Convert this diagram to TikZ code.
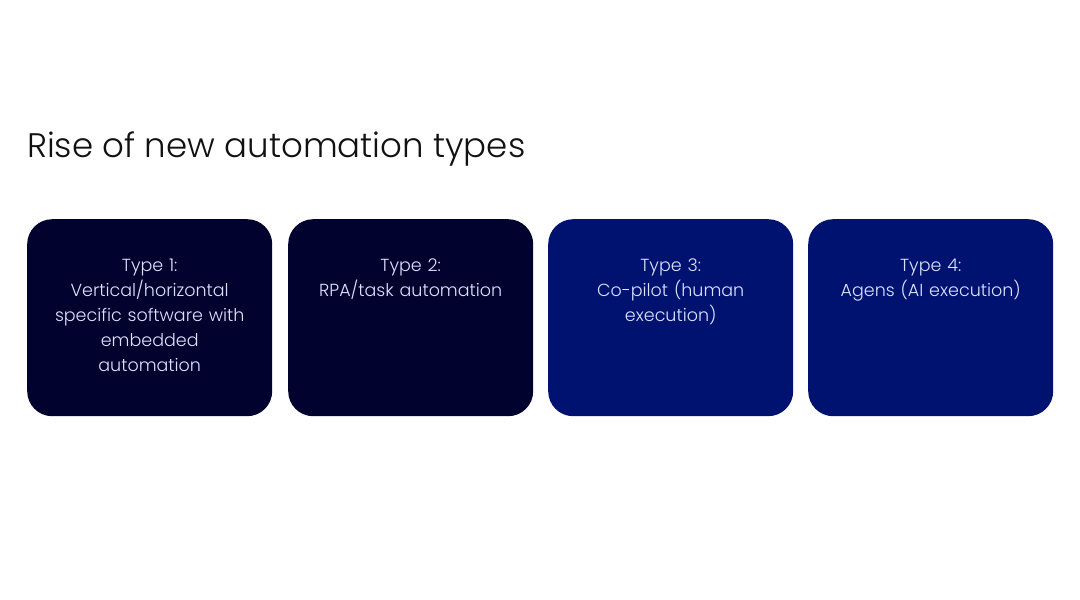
\documentclass[tikz,border=0pt]{standalone}
\usepackage{fontspec}
\setmainfont{Poppins}[UprightFont=* Light]
\definecolor{navydark}{HTML}{02022F}
\definecolor{navyblue}{HTML}{001270}
\definecolor{boxtext}{HTML}{DDE2FF}
\definecolor{titletext}{HTML}{111111}
\begin{document}
\begin{tikzpicture}[x=1pt,y=-1pt,
  card/.style={rectangle,rounded corners=25pt,minimum width=245pt,minimum height=197pt,inner sep=0pt,anchor=north west},
  cardtext/.style={anchor=north,text=boxtext,font=\fontsize{17.5}{25}\selectfont,align=center,text width=205pt,inner sep=0pt}]
\useasboundingbox[fill=white] (0,0) rectangle (1080,600);
\node[anchor=base west,inner sep=0pt,text=titletext,font=\fontsize{34}{40}\selectfont] (title) at (27,157) {Rise of new automation types};
\node[card,fill=navydark] (b1) at (27,219) {};
\node[card,fill=navydark] (b2) at (288,219) {};
\node[card,fill=navyblue] (b3) at (548,219) {};
\node[card,fill=navyblue] (b4) at (808,219) {};
\node[cardtext] (t1) at ([yshift=-40pt]b1.north) {Type 1:\\Vertical/horizontal\\specific software with\\embedded\\automation};
\node[cardtext] (t2) at ([yshift=-40pt]b2.north) {Type 2:\\RPA/task automation};
\node[cardtext] (t3) at ([yshift=-40pt]b3.north) {Type 3:\\Co-pilot (human\\execution)};
\node[cardtext] (t4) at ([yshift=-40pt]b4.north) {Type 4:\\Agens (AI execution)};
\end{tikzpicture}
\end{document}
